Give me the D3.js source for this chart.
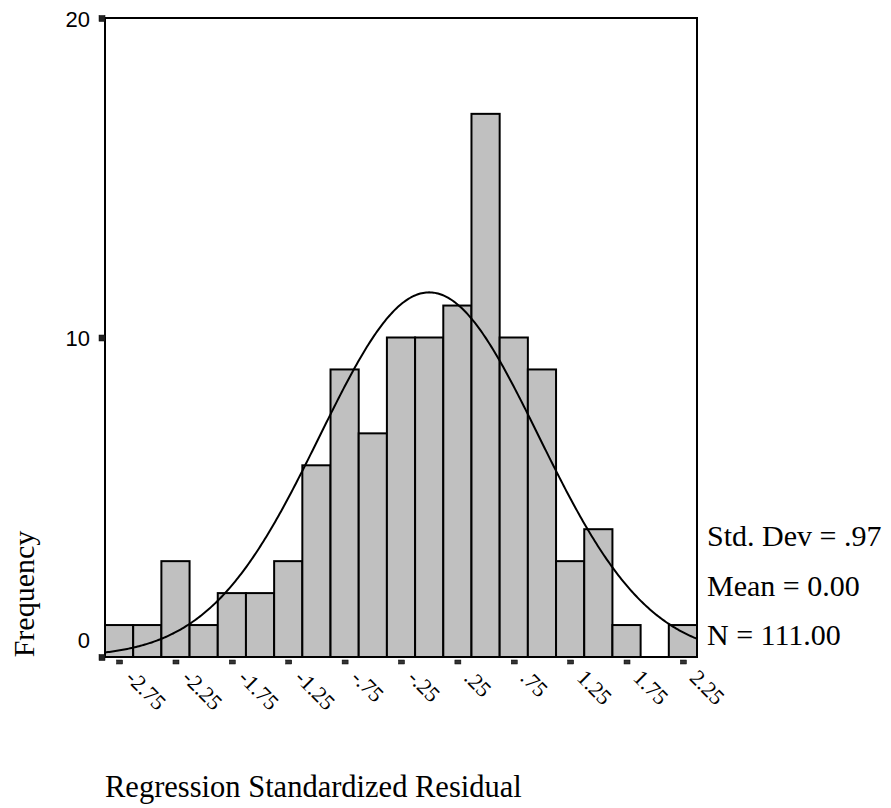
<!DOCTYPE html>
<html>
<head>
<meta charset="utf-8">
<script src="https://cdn.jsdelivr.net/npm/d3@7"></script>
<style>
  html, body { margin: 0; padding: 0; background: #fff; }
  svg { display: block; }
</style>
</head>
<body>
<svg id="chart" width="891" height="808"></svg>
<script>
// ---- data ----
const binCenters = [-2.75, -2.5, -2.25, -2.0, -1.75, -1.5, -1.25, -1.0, -0.75, -0.5, -0.25, 0.0, 0.25, 0.5, 0.75, 1.0, 1.25, 1.5, 1.75, 2.0, 2.25];
const counts     = [1, 1, 3, 1, 2, 2, 3, 6, 9, 7, 10, 10, 11, 17, 10, 9, 3, 4, 1, 0, 1];
const binWidth = 0.25;
const xTickValues = [-2.75, -2.25, -1.75, -1.25, -0.75, -0.25, 0.25, 0.75, 1.25, 1.75, 2.25];
const xTickLabels = ["-2.75", "-2.25", "-1.75", "-1.25", "-.75", "-.25", ".25", ".75", "1.25", "1.75", "2.25"];
const yTickValues = [0, 10, 20];
const statMean = 0.0;
const statSD = 0.97;
const statN = 111;
const statLines = ["Std. Dev = .97", "Mean = 0.00", "N = 111.00"];

// ---- layout ----
const pLeft = 105, pRight = 697, pTop = 18, pBottom = 657;
const svg = d3.select("#chart");

const x = d3.scaleLinear().domain([-2.875, 2.375]).range([pLeft, pRight]);
const y = d3.scaleLinear().domain([0, 20]).range([pBottom, pTop]);

// bars
svg.append("g").selectAll("rect")
  .data(binCenters.map((c, i) => ({c, n: counts[i]})).filter(d => d.n > 0))
  .join("rect")
  .attr("x", d => x(d.c - binWidth / 2))
  .attr("y", d => y(d.n))
  .attr("width", d => x(d.c + binWidth / 2) - x(d.c - binWidth / 2))
  .attr("height", d => y(0) - y(d.n))
  .attr("fill", "#c0c0c0")
  .attr("stroke", "#000")
  .attr("stroke-width", 2);

// normal curve from displayed statistics
const curvePts = d3.range(0, 401).map(i => {
  const v = -2.875 + i * (5.25 / 400);
  const dens = statN * binWidth * Math.exp(-0.5 * Math.pow((v - statMean) / statSD, 2)) / (statSD * Math.sqrt(2 * Math.PI));
  return [v, dens];
});
svg.append("path")
  .attr("d", d3.line().x(d => x(d[0])).y(d => y(d[1]))(curvePts))
  .attr("fill", "none")
  .attr("stroke", "#000")
  .attr("stroke-width", 2);

// frame
svg.append("rect")
  .attr("x", pLeft).attr("y", pTop)
  .attr("width", pRight - pLeft).attr("height", pBottom - pTop)
  .attr("fill", "none").attr("stroke", "#000").attr("stroke-width", 2);

// y axis
const yAxis = svg.append("g")
  .attr("transform", `translate(${pLeft},0)`)
  .call(d3.axisLeft(y).tickValues(yTickValues).tickSize(0).tickPadding(15).tickFormat(d3.format("d")));
yAxis.select(".domain").remove();
yAxis.selectAll(".tick text")
  .attr("font-family", "'Liberation Sans', Arial, sans-serif")
  .attr("font-size", 22)
  .attr("fill", "#000")
  .attr("dy", d => d === 0 ? "-0.42em" : "0.38em");
yAxis.selectAll(".tick").append("rect")
  .attr("x", -6).attr("y", -3).attr("width", 6).attr("height", 6)
  .attr("fill", "#222").attr("stroke", "#000").attr("stroke-width", 0.5);

// x axis
const xAxis = svg.append("g")
  .attr("transform", `translate(0,${pBottom})`)
  .call(d3.axisBottom(x).tickValues(xTickValues).tickSize(0).tickFormat((d, i) => xTickLabels[i]));
xAxis.select(".domain").remove();
xAxis.selectAll(".tick").append("rect")
  .attr("x", -3).attr("y", 3).attr("width", 6).attr("height", 4)
  .attr("fill", "#333").attr("stroke", "#000").attr("stroke-width", 0.5);
xAxis.selectAll(".tick text")
  .attr("font-family", "'Liberation Serif', 'Times New Roman', serif")
  .attr("font-size", 22)
  .attr("fill", "#000")
  .attr("text-anchor", "start")
  .attr("x", 0).attr("y", 0).attr("dy", 0)
  .attr("transform", "translate(5,22) rotate(45)");

// stats text
svg.append("g").selectAll("text")
  .data(statLines)
  .join("text")
  .attr("x", 707)
  .attr("y", (d, i) => 546 + i * 49.5)
  .attr("font-family", "'Liberation Serif', 'Times New Roman', serif")
  .attr("font-size", 30)
  .attr("fill", "#000")
  .text(d => d);

// axis titles
svg.append("text")
  .attr("x", 105).attr("y", 797)
  .attr("font-family", "'Liberation Serif', 'Times New Roman', serif")
  .attr("font-size", 30.5)
  .attr("fill", "#000")
  .text("Regression Standardized Residual");

svg.append("text")
  .attr("transform", "translate(34,594) rotate(-90)")
  .attr("text-anchor", "middle")
  .attr("font-family", "'Liberation Serif', 'Times New Roman', serif")
  .attr("font-size", 30)
  .attr("fill", "#000")
  .text("Frequency");
</script>
</body>
</html>
